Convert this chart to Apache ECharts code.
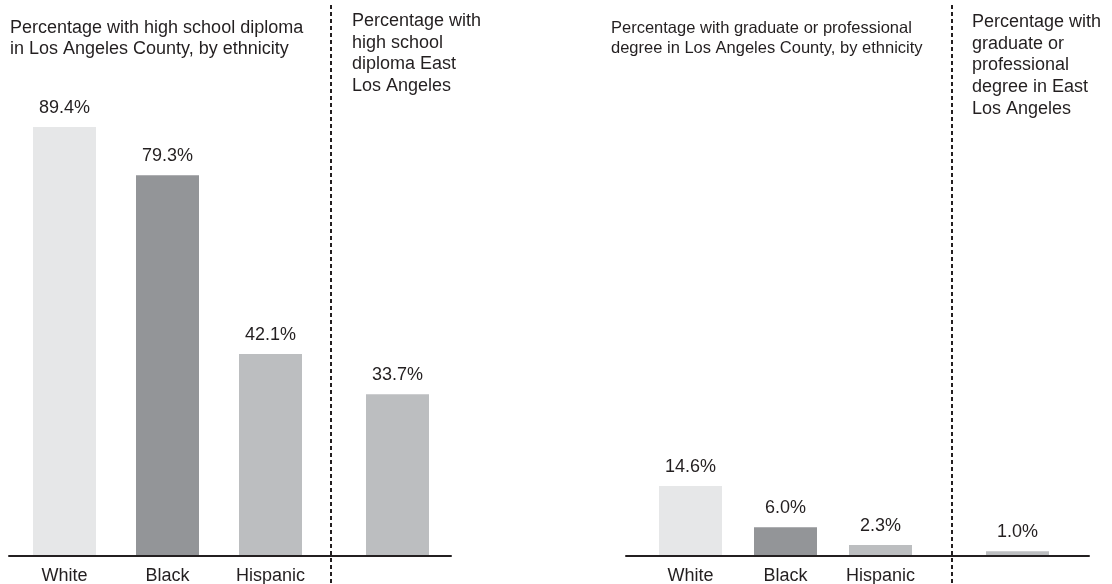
<!DOCTYPE html>
<html>
<head>
<meta charset="utf-8">
<script src="https://cdn.jsdelivr.net/npm/echarts@6/dist/echarts.min.js"></script>
<style>
html,body{margin:0;padding:0;background:#fff;}
#chart{width:1112px;height:584px;}
</style>
</head>
<body>
<div id="chart"></div>
<script>
const categories = ['White', 'Black', 'Hispanic'];
const hsCounty = [89.4, 79.3, 42.1];
const hsEast = [33.7];
const gradCounty = [14.6, 6.0, 2.3];
const gradEast = [1.0];
const countyColors = ['#e6e7e8', '#939598', '#bcbec0'];
const eastColor = '#bcbec0';

const FONT = "'Liberation Sans', Arial, sans-serif";
const TXT = '#231f20';
const TOP = 76, BOTTOM = 28;

const chart = echarts.init(document.getElementById('chart'));

function lineGrid(left, width) {
  return {left: left, width: width, top: TOP, bottom: BOTTOM, containLabel: false, outerBoundsMode: 'none'};
}
const grids = [
  lineGrid(9, 442),     // 0 left baseline
  lineGrid(13, 309),    // 1 left county
  lineGrid(344, 107),   // 2 left east
  lineGrid(626, 463),   // 3 right baseline
  lineGrid(643, 285),   // 4 right county
  lineGrid(964, 107)    // 5 right east
];

function xAx(idx, data, showLine, showLabel) {
  return {
    gridIndex: idx, type: 'category', data: data,
    axisLine: {show: showLine, lineStyle: {color: TXT, width: 2}},
    axisTick: {show: false},
    axisLabel: {show: showLabel, color: TXT, fontSize: 18, fontFamily: FONT, margin: 11},
    z: 10
  };
}
function yAx(idx) {
  return {gridIndex: idx, type: 'value', min: 0, max: 100, show: false};
}

const valueLabel = {
  show: true, position: 'top', distance: 10,
  color: TXT, fontSize: 18, fontFamily: FONT,
  formatter: p => p.value.toFixed(1) + '%'
};

function barSeries(idx, values, colors) {
  return {
    type: 'bar', xAxisIndex: idx, yAxisIndex: idx,
    barWidth: 63,
    data: values.map((v, i) => ({value: v, itemStyle: {color: colors[i % colors.length]}})),
    label: valueLabel,
    animation: false
  };
}

function title(text, left, top, size, lh) {
  return {
    text: text, left: left, top: top, padding: 0,
    textStyle: {color: TXT, fontSize: size, fontWeight: 'normal', fontFamily: FONT, lineHeight: lh}
  };
}

function divider(x) {
  return {
    type: 'line', shape: {x1: x, y1: 5, x2: x, y2: 584},
    style: {stroke: TXT, lineWidth: 2, lineDash: [4, 3]}, z: 20
  };
}

chart.setOption({
  animation: false,
  title: [
    title('Percentage with high school diploma\nin Los Angeles County, by ethnicity', 10, 17, 18, 21.5),
    title('Percentage with\nhigh school\ndiploma East\nLos Angeles', 352, 10, 18, 21.7),
    title('Percentage with graduate or professional\ndegree in Los Angeles County, by ethnicity', 611, 18, 16.5, 20.5),
    title('Percentage with\ngraduate or\nprofessional\ndegree in East\nLos Angeles', 972, 11, 18, 21.7)
  ],
  grid: grids,
  xAxis: [
    xAx(0, [''], true, false),
    xAx(1, categories, false, true),
    xAx(2, [''], false, false),
    xAx(3, [''], true, false),
    xAx(4, categories, false, true),
    xAx(5, [''], false, false)
  ],
  yAxis: [yAx(0), yAx(1), yAx(2), yAx(3), yAx(4), yAx(5)],
  series: [
    barSeries(1, hsCounty, countyColors),
    barSeries(2, hsEast, [eastColor]),
    barSeries(4, gradCounty, countyColors),
    barSeries(5, gradEast, [eastColor])
  ],
  graphic: [divider(331), divider(952)]
});
</script>
</body>
</html>
